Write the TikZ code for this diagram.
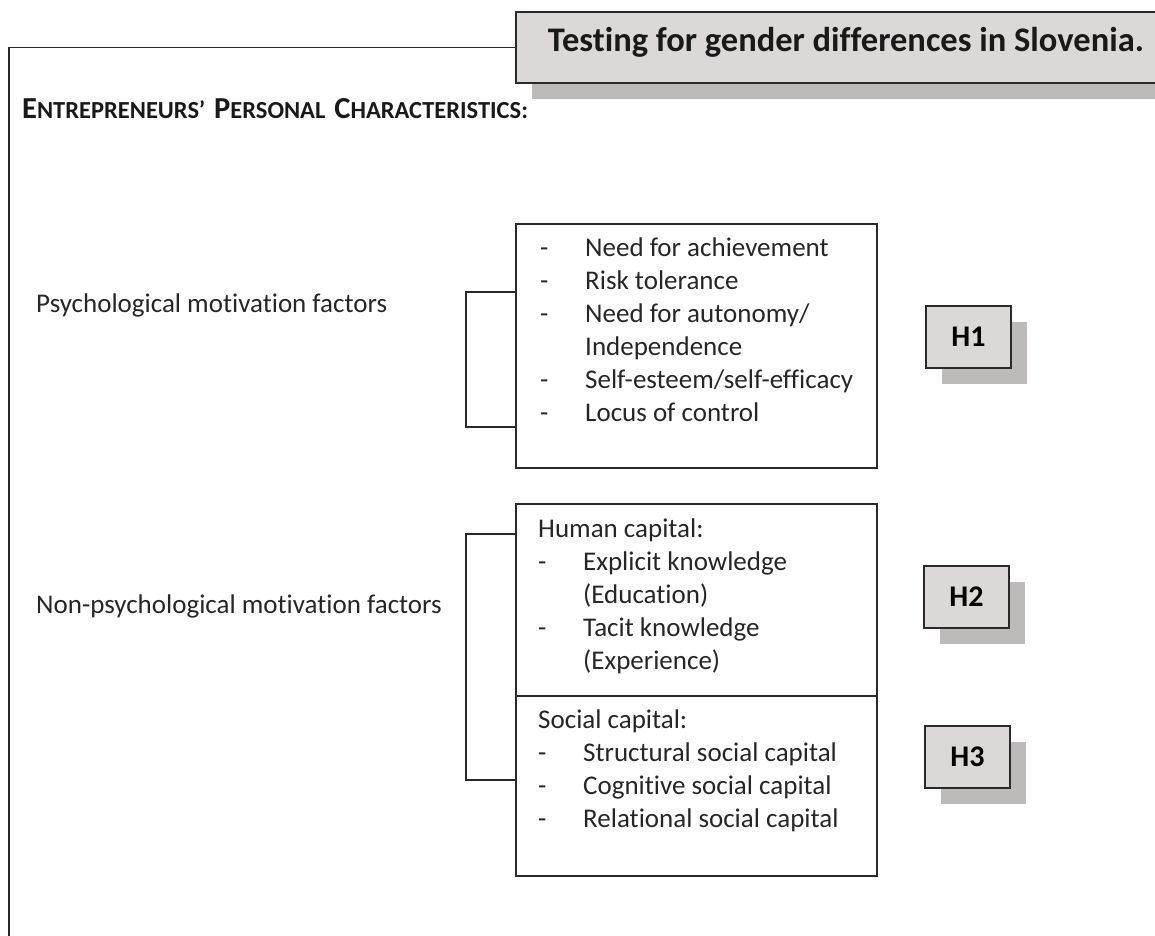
\documentclass[tikz,border=0pt]{standalone}
\usepackage{fontspec}
\setmainfont{Carlito}[Ligatures=CommonOff]
\usetikzlibrary{shadows}
\definecolor{boxgray}{HTML}{DCD8D7}
\definecolor{shadegray}{HTML}{BDBAB9}
\definecolor{linegray}{HTML}{2A2A2A}
\newcommand{\fsc}[2]{{\fontsize{30.5}{30}\selectfont #1}{\fontsize{24.5}{24}\selectfont #2}}
\newcommand{\itm}{\makebox[45pt][l]{-}}

\begin{document}
\begin{tikzpicture}[
        x=1pt, y=-1pt,
        frame/.style = {draw=linegray, line width=1.8pt},
        shadebox/.style = {draw=linegray, line width=2pt, fill=boxgray,
            drop shadow={shadow xshift=16pt, shadow yshift=-16pt, fill=shadegray, opacity=1}},
        listbox/.style = {draw=linegray, line width=1.8pt, inner sep=0pt},
        listtext/.style = {anchor=north west, align=left, inner sep=0pt,
            font=\fontsize{27}{33}\selectfont, text=black!85},
        label/.style = {anchor=west, inner sep=0pt, font=\fontsize{27}{30}\selectfont, text=black!85},
        hbox/.style = {shadebox, minimum width=85pt, minimum height=62pt, inner sep=0pt,
            font=\fontsize{30}{30}\selectfont\bfseries}
        ]
        \useasboundingbox (0,0) rectangle (1155,935);

        \node (title) at (515,11) [shadebox, anchor=north west, minimum width=670pt, minimum height=71pt,
            drop shadow={shadow xshift=17pt, shadow yshift=-16pt, fill=shadegray, opacity=1}] {};
        \node (tt) at (846,42) [font=\fontsize{34.5}{34.5}\selectfont\bfseries, text=black!90] {Testing for gender differences in Slovenia.};
        \coordinate (fb) at (9,945);
        \draw[frame] (fb) |- (title.west);

        \node (head) at (22,118) [anchor=base west, inner sep=0pt, font=\bfseries, text=black!90]
            {\fsc{E}{NTREPRENEURS'}\hspace{9pt}\fsc{P}{ERSONAL}\hspace{9pt}\fsc{C}{HARACTERISTICS:}};

        \node (psy) at (36,305) [label] {Psychological motivation factors};
        \node (nonpsy) at (36,606) [label] {Non-psychological motivation factors};

        \node (pf) at (515,223) [listbox, anchor=north west, minimum width=361pt, minimum height=244pt] {};
        \node (pft) at (540,238) [listtext] {\itm Need for achievement\\ \itm Risk tolerance\\
            \itm Need for autonomy/\\ \hspace*{45pt}Independence\\ \itm Self-esteem/self-efficacy\\ \itm Locus of control};

        \node (hc) at (515,503) [listbox, anchor=north west, minimum width=361pt, minimum height=192pt] {};
        \node (hct) at (538,519) [listtext] {Human capital:\\ \itm Explicit knowledge\\ \hspace*{45pt}(Education)\\
            \itm Tacit knowledge\\ \hspace*{45pt}(Experience)};
        \node (sc) at (515,695) [listbox, anchor=north west, minimum width=361pt, minimum height=180pt] {};
        \node (sct) at (538,710) [listtext] {Social capital:\\ \itm Structural social capital\\
            \itm Cognitive social capital\\ \itm Relational social capital};

        \draw[frame] ([yshift=-69pt]pf.north west) -- ++(-49,0) |- ([yshift=-204pt]pf.north west);
        \draw[frame] ([yshift=-31pt]hc.north west) -- ++(-49,0) |- ([yshift=-85pt]sc.north west);

        \node (h1) at (925,305) [hbox, anchor=north west] {H1};
        \node (h2) at (923,565) [hbox, anchor=north west] {H2};
        \node (h3) at (924,725) [hbox, anchor=north west] {H3};
    \end{tikzpicture}
\end{document}
